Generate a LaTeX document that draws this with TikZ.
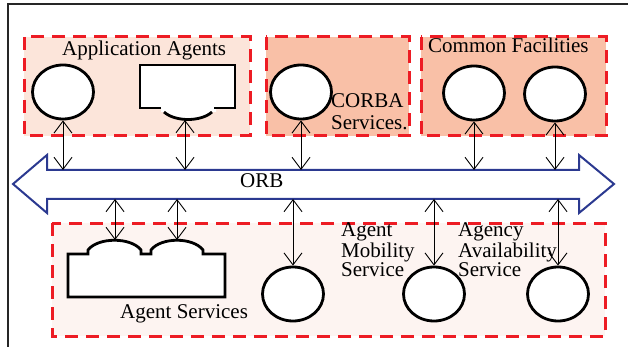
\documentclass[tikz,border=0pt]{standalone}
\usepackage{fontspec}
\setmainfont{Liberation Serif}
\usetikzlibrary{shapes.geometric,arrows.meta}
\definecolor{dred}{RGB}{237,28,36}
\definecolor{lpeach}{RGB}{252,229,218}
\definecolor{dpeach}{RGB}{249,192,167}
\definecolor{vpeach}{RGB}{253,244,241}
\definecolor{orbblue}{RGB}{43,57,144}
\begin{document}
\begin{tikzpicture}[x=1pt,y=-1pt,
  grp/.style={draw=dred,line width=3pt,dash pattern=on 13pt off 8pt},
  ell/.style={draw,ellipse,fill=white,line width=2.8pt,minimum width=61pt,minimum height=54pt,inner sep=0pt},
  shapeline/.style={draw=black,line width=2.8pt},
  link/.style={{Straight Barb[length=12pt,width=18pt]}-{Straight Barb[length=12pt,width=18pt]},line width=0.9pt},
  lbl/.style={font=\fontsize{21}{17.5}\selectfont,inner sep=0pt,align=left,anchor=base west},
]
\useasboundingbox (0,0) rectangle (628,347);
% outer frame
\draw[line width=2pt,black!85] (8,347) -- (8,4) -- (628,4);
% groups
\path[grp,fill=lpeach] (24,37) rectangle (250,136);
\path[grp,fill=dpeach] (266,37) rectangle (409,136);
\path[grp,fill=dpeach] (421,37) rectangle (606,136);
\path[grp,fill=vpeach] (52,223) rectangle (605,336);
% top shapes
\node[ell] (a1) at (63,92) {};
\path[fill=white] (140,65) -- (235,65) -- (235,108) -- (216,108) -- (216,112) -- (212,112)
  .. controls (201,122) and (175,122) .. (164,112) -- (161,112) -- (161,108) -- (140,108) -- cycle;
\draw[shapeline] (161,108) -- (140,108) -- (140,65) -- (235,65) -- (235,108) -- (214,108);
\draw[shapeline] (212,112) .. controls (201,122) and (175,122) .. (164,112);
\coordinate (a2) at (185,120);
\node[ell] (cs) at (301,92) {};
\node[ell] (f1) at (474,93) {};
\node[ell] (f2) at (555,94) {};
% bottom shapes
\draw[shapeline,fill=white] (68,254) -- (88,254) -- (88,250) .. controls (98,237) and (131,237) .. (141,250)
  -- (141,254) -- (151,254) -- (151,250) .. controls (161,237) and (193,237) .. (203,250)
  -- (203,254) -- (225,254) -- (225,297) -- (68,297) -- cycle;
\coordinate (s1) at (115,240);
\coordinate (s2) at (177,240);
\node[ell] (b1) at (293,294) {};
\node[ell] (b2) at (434,294) {};
\node[ell] (b3) at (558,294) {};
% ORB
\draw[orbblue,line width=2pt,fill=white] (13,184) -- (47,155) -- (47,170) -- (579,170) -- (579,155)
  -- (614,184) -- (579,213) -- (579,199) -- (47,199) -- (47,213) -- cycle;
\coordinate (orbT) at (0,170);
\coordinate (orbB) at (0,199);
% connectors
\draw[link] (a1.south) -- (a1.south |- orbT);
\draw[link] (a2) -- (a2 |- orbT);
\draw[link] (cs.south) -- (cs.south |- orbT);
\draw[link] (f1.south) -- (f1.south |- orbT);
\draw[link] (f2.south) -- (f2.south |- orbT);
\draw[link] (s1 |- orbB) -- (s1);
\draw[link] (s2 |- orbB) -- (s2);
\draw[link] (b1.north |- orbB) -- (b1.north);
\draw[link] (b2.north |- orbB) -- (b2.north);
\draw[link] (b3.north |- orbB) -- (b3.north);
% labels
\node[lbl] (appl) at (62,56) {Application Agents};
\node[lbl] (cfl) at (428,53) {Common Facilities};
\node[lbl,font=\fontsize{21}{22}\selectfont] (csl) at (331,129.3) {CORBA\\Services.};
\node[lbl] (orbl) at (240,188) {ORB};
\node[lbl] (asl) at (120,318) {Agent Services};
\node[lbl] (aml) at (341,276.5) {Agent\\Mobility\\Service};
\node[lbl] (aal) at (458,276.5) {Agency\\Availability\\Service};
\end{tikzpicture}
\end{document}
